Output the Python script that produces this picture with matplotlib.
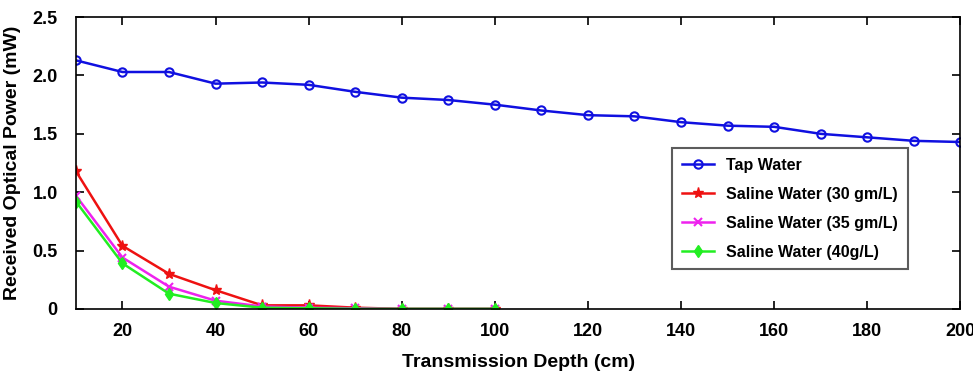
import matplotlib.pyplot as plt
import numpy as np

plt.rcParams['font.family'] = ['Liberation Sans', 'DejaVu Sans']
plt.rcParams['font.weight'] = 'bold'

# 데이터
depth_tap = np.arange(10, 201, 10)
tap_water = [2.13, 2.03, 2.03, 1.93, 1.94, 1.92, 1.86, 1.81, 1.79, 1.75,
             1.70, 1.66, 1.65, 1.60, 1.57, 1.56, 1.50, 1.47, 1.44, 1.43]

depth_saline = np.arange(10, 101, 10)
saline_30 = [1.18, 0.54, 0.30, 0.16, 0.03, 0.03, 0.01, 0.0, 0.0, 0.0]
saline_35 = [0.97, 0.44, 0.19, 0.07, 0.02, 0.01, 0.005, 0.0, 0.0, 0.0]
saline_40 = [0.92, 0.39, 0.13, 0.05, 0.01, 0.005, 0.0, 0.0, 0.0, 0.0]

fig = plt.figure(figsize=(9.73, 3.73), dpi=100)
ax = fig.add_axes([0.078, 0.172, 0.909, 0.782])

ax.plot(depth_tap, tap_water, color='#1010e0', marker='o', mfc='none',
        ms=6, mew=1.5, lw=1.8, label='Tap Water')
ax.plot(depth_saline, saline_30, color='#ee1111', marker='*',
        ms=8, lw=1.8, label='Saline Water (30 gm/L)')
ax.plot(depth_saline, saline_35, color='#ee22ee', marker='x',
        ms=6, mew=1.5, lw=1.8, label='Saline Water (35 gm/L)')
ax.plot(depth_saline, saline_40, color='#22ee22', marker='d',
        ms=6, lw=1.8, label='Saline Water (40g/L)')

ax.set_xlim(10, 200)
ax.set_ylim(0, 2.5)
ax.set_xticks(range(20, 201, 20))
ax.set_yticks([0, 0.5, 1.0, 1.5, 2.0, 2.5])
ax.set_yticklabels(['0', '0.5', '1.0', '1.5', '2.0', '2.5'])
ax.tick_params(direction='in', top=True, right=True, length=6, width=1.2,
               labelsize=13)
ax.tick_params(axis='x', pad=10)
ax.tick_params(axis='y', pad=13)
for s in ax.spines.values():
    s.set_linewidth(1.2)

ax.set_xlabel('Transmission Depth (cm)', fontsize=14, fontweight='bold',
              labelpad=10)
ax.set_ylabel('Received Optical Power (mW)', fontsize=14,
              fontweight='bold', labelpad=8)

leg = ax.legend(loc='upper left', bbox_to_anchor=(0.674, 0.551),
                borderaxespad=0, fontsize=11.5, frameon=True, fancybox=False,
                edgecolor='#333333', handlelength=2.0, handletextpad=0.8,
                labelspacing=0.88, borderpad=0.6)
leg.get_frame().set_linewidth(1.5)

fig.savefig('out.png', dpi=100)
